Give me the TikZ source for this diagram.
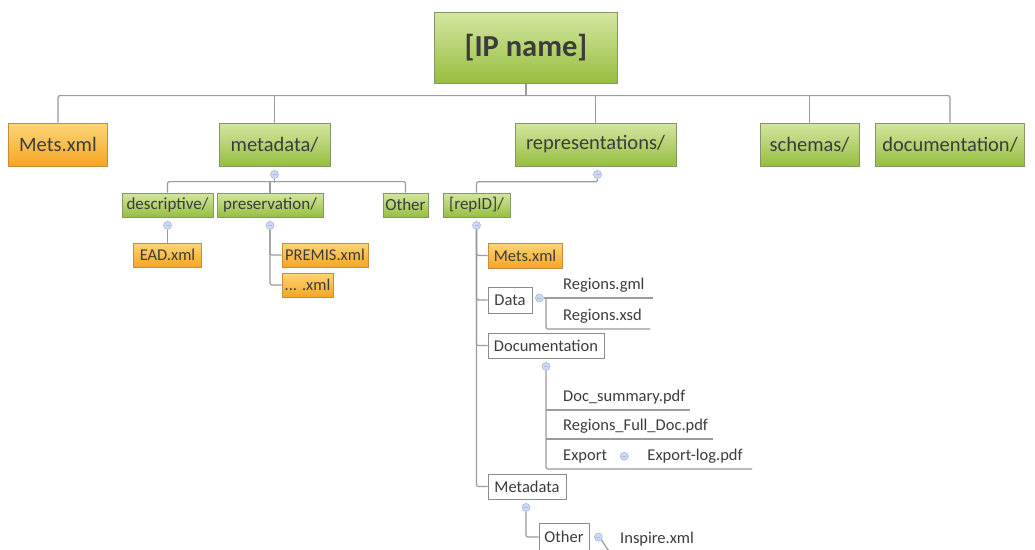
\documentclass[tikz,border=0pt]{standalone}
\usepackage{fontspec}
\setmainfont{Carlito}
\usetikzlibrary{calc}
\definecolor{greentop}{RGB}{212,230,160}
\definecolor{greenbot}{RGB}{150,190,64}
\definecolor{greenedge}{RGB}{135,150,105}
\definecolor{orangetop}{RGB}{253,214,120}
\definecolor{orangebot}{RGB}{245,165,35}
\definecolor{orangeedge}{RGB}{200,140,60}
\definecolor{boxgray}{RGB}{140,140,140}
\definecolor{linegray}{RGB}{155,155,155}
\definecolor{textgray}{RGB}{60,60,60}
\definecolor{knobfill}{RGB}{205,218,240}
\definecolor{knobedge}{RGB}{165,185,225}
\newcommand{\leaffont}{\fontsize{16.5}{19}\selectfont}
\begin{document}
\begin{tikzpicture}[x=1pt, y=-1pt,
    link/.style={draw=linegray, line width=1.2pt, rounded corners=2pt},
    box/.style={draw, inner sep=0pt, text=textgray, line width=0.8pt},
    folder/.style={box, draw=greenedge, top color=greentop, bottom color=greenbot},
    file/.style={box, draw=orangeedge, top color=orangetop, bottom color=orangebot},
    plain/.style={box, draw=boxgray, fill=white},
    big/.style={font=\fontsize{20.5}{24}\selectfont, minimum height=43},
    small/.style={font=\fontsize{17}{20}\selectfont, minimum height=24},
    leafbox/.style={font=\leaffont, minimum height=25},
    leaf/.style={anchor=south west, inner xsep=17pt, inner ysep=4.5pt, text height=12pt, text depth=4pt, font=\leaffont, text=textgray},
    knob/.style={circle, draw=knobedge, fill=knobfill, minimum size=8, inner sep=0pt, line width=0.6pt,
      path picture={\draw[knobedge, line width=0.8pt] ([xshift=-2pt]path picture bounding box.center) -- ([xshift=2pt]path picture bounding box.center);}},
  ]
  \useasboundingbox (0,0) rectangle (1035,549);
  \fill[white] (0,0) rectangle (1035,549);

  \node[folder, minimum width=183, minimum height=71, font=\bfseries\fontsize{30.5}{34}\selectfont] (ip) at (526,48) {[IP name]};

  \node[file, big, minimum width=99] (mets) at (58,144.5) {Mets.xml};
  \node[folder, big, minimum width=111] (metadata) at (274.5,144.5) {metadata/};
  \node[folder, big, minimum width=161] (repr) at (595.5,144.5) {representations/};
  \node[folder, big, minimum width=99] (schemas) at (809.5,144.5) {schemas/};
  \node[folder, big, minimum width=149] (docs) at (950,144.5) {documentation/};

  \draw[link] (ip.south) -- ++(0,12.5);
  \draw[link] (mets.north) -- ++(0,-27) -| (docs.north);
  \foreach \n in {metadata,repr,schemas}
    \draw[link] (\n.north) -- ++(0,-27);

  \node[knob] (kmeta) at ($(metadata.south)+(0,8)$) {};
  \node[knob] (krepr) at ($(repr.south)+(2,8)$) {};

  \node[folder, small, minimum width=91] (desc) at (167.5,205) {descriptive/};
  \node[folder, small, minimum width=106] (pres) at (270,205) {preservation/};
  \node[folder, small, minimum width=45] (other) at (405.5,205) {Other};
  \node[folder, small, minimum width=67] (repid) at (476.5,205) {[repID]/};

  \draw[link] (kmeta.south) -- ++(0,4);
  \draw[link] (desc.north) -- ++(0,-11) -| (other.north);
  \draw[link] (pres.north) -- ++(0,-11);
  \draw[link] (krepr.south) -- ++(0,3) -| (repid.north);

  \node[knob] (kdesc) at ($(desc.south)+(0,8)$) {};
  \node[knob] (kpres) at ($(pres.south)+(0,8)$) {};
  \node[knob] (krepid) at ($(repid.south)+(0,8)$) {};

  \node[file, leafbox, minimum width=68, minimum height=24] (ead) at (167.5,255) {EAD.xml};
  \node[file, leafbox, minimum width=86, minimum height=24] (premis) at (325,255) {PREMIS.xml};
  \node[file, leafbox, minimum width=51, minimum height=24] (dots) at (307.5,285) {... .xml};
  \draw[link] (kdesc.south) -- (ead.north);
  \draw[link] (kpres.south) |- (premis.west);
  \draw[link] (kpres.south) |- (dots.west);

  \node[file, leafbox, minimum width=74] (mets2) at (525,255.5) {Mets.xml};
  \node[plain, leafbox, minimum width=44, minimum height=26] (data) at (510,300) {Data};
  \node[plain, leafbox, minimum width=116] (docu) at (546,345.5) {Documentation};
  \node[plain, leafbox, minimum width=78] (meta) at (527,486.5) {Metadata};
  \foreach \n in {mets2,data,docu,meta}
    \draw[link] (krepid.south) |- (\n.west);

  \node[knob] (kdata) at ($(data.east)+(7,-2)$) {};
  \node[leaf] (gml) at (546,298) {Regions.gml};
  \node[leaf] (xsd) at (546,329) {Regions.xsd};
  \draw[link] (kdata.east) -- (gml.south west) -- ++(107,0);
  \draw[link] (gml.south west) -- (xsd.south west) -- ++(104,0);

  \node[knob] (kdocu) at ($(docu.south)+(0,8)$) {};
  \node[leaf] (summary) at (546,410) {Doc\_summary.pdf};
  \node[leaf] (fulldoc) at (546,439) {Regions\_Full\_Doc.pdf};
  \node[leaf] (export) at (546,469) {Export};
  \node[knob] (kexport) at (export.east) {};
  \node[leaf] (exportlog) at ($(export.south east)+(6,0)$) {Export-log.pdf};
  \draw[link] (kdocu.south) -- (export.south west) -- ++(206,0);
  \draw[link] (summary.south west) -- ++(144,0);
  \draw[link] (fulldoc.south west) -- ++(167,0);

  \node[knob] (kmeta2) at ($(meta.south)+(-1,8)$) {};
  \node[plain, leafbox, minimum width=50, minimum height=28] (other2) at (564,537) {Other};
  \draw[link] (kmeta2.south) |- (other2.west);
  \node[knob] (kother) at ($(other2.east)+(9,0)$) {};
  \node[leaf, inner xsep=6pt] (inspire) at (614,552) {Inspire.xml};
  \draw[link] (kother.south east) to[out=-50, in=180] (inspire.south west) -- ++(90,0);
\end{tikzpicture}
\end{document}
